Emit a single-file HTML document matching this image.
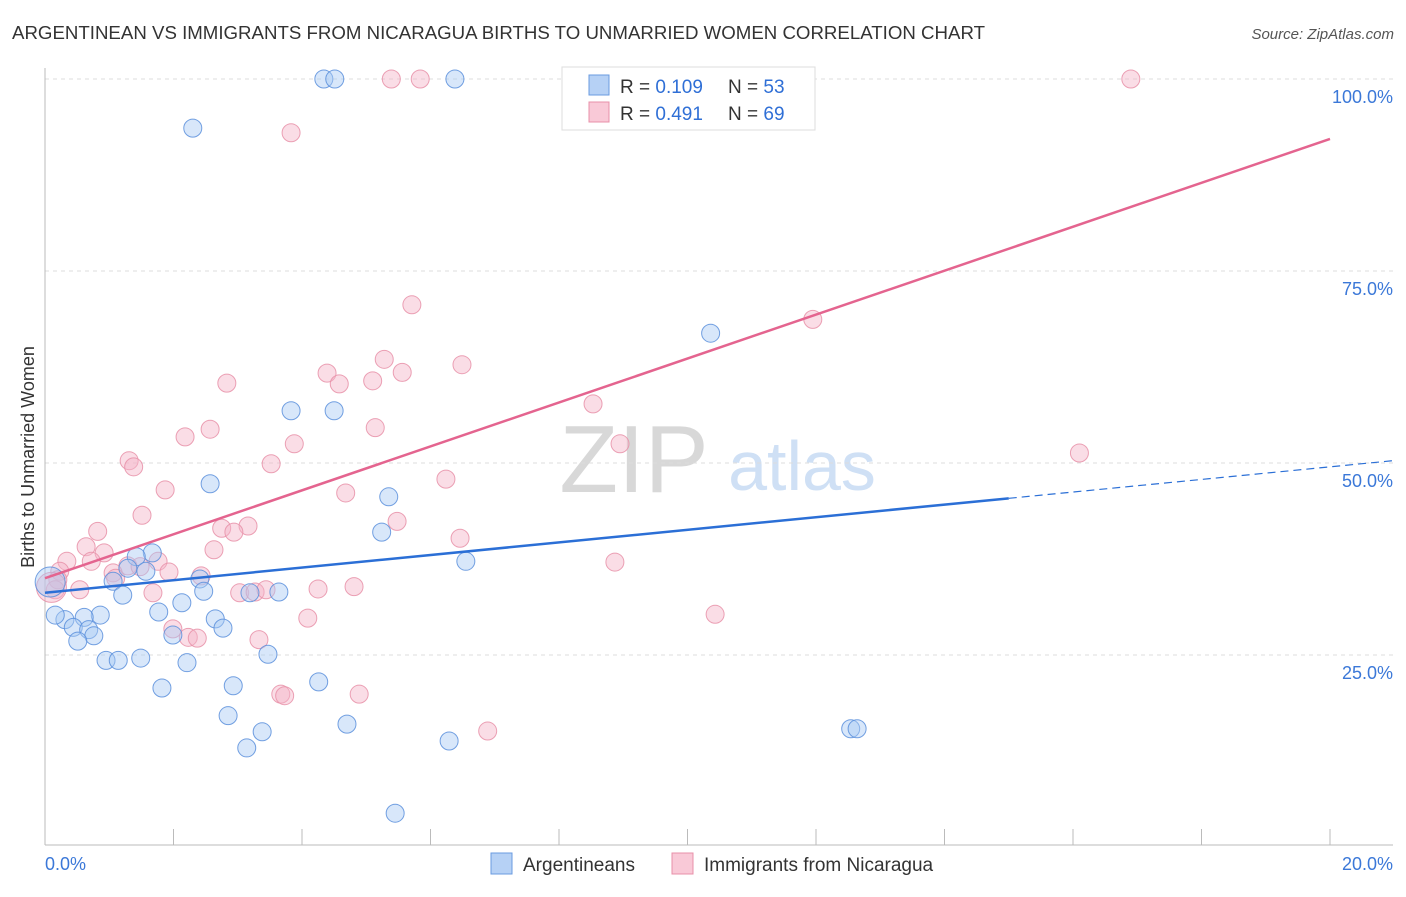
<!DOCTYPE html>
<html><head><meta charset="utf-8"><style>
body{margin:0;background:#fff;font-family:"Liberation Sans",sans-serif;}
svg text{font-family:"Liberation Sans",sans-serif;}
</style></head><body>
<svg id="chart" width="1406" height="892" xmlns="http://www.w3.org/2000/svg">
<text x="12" y="39" font-size="18.6" fill="#333" textLength="973" lengthAdjust="spacingAndGlyphs">ARGENTINEAN VS IMMIGRANTS FROM NICARAGUA BIRTHS TO UNMARRIED WOMEN CORRELATION CHART</text>
<text x="1394" y="39" font-size="15" fill="#555" text-anchor="end" font-style="italic">Source: ZipAtlas.com</text>
<text transform="translate(34,457) rotate(-90)" font-size="18" fill="#333" text-anchor="middle">Births to Unmarried Women</text>
<g>
<text x="634" y="492" font-size="96" fill="#d8d8d8" text-anchor="middle" font-family="Liberation Serif, serif">ZIP</text>
<text x="802" y="490" font-size="70" fill="#cfe0f5" text-anchor="middle">atlas</text>
</g>
<g id="grid"></g><g id="axes"></g><g id="pts"></g><g id="lines"></g>
<g>
<rect x="562" y="67" width="253" height="63" fill="#fff" stroke="#ddd"/>
<rect x="589" y="75" width="20" height="20" fill="#b6d1f5" stroke="#6a9be0"/>
<text x="620" y="93" font-size="19" fill="#333">R = <tspan fill="#2f6fd6">0.109</tspan><tspan x="728">N = </tspan><tspan fill="#2f6fd6">53</tspan></text>
<rect x="589" y="102" width="20" height="20" fill="#f9c9d7" stroke="#e890a8"/>
<text x="620" y="120" font-size="19" fill="#333">R = <tspan fill="#2f6fd6">0.491</tspan><tspan x="728">N = </tspan><tspan fill="#2f6fd6">69</tspan></text>
</g>
<g>
<rect x="491" y="853" width="21" height="21" fill="#b6d1f5" stroke="#6a9be0"/>
<text x="523" y="871" font-size="19" fill="#333">Argentineans</text>
<rect x="672" y="853" width="21" height="21" fill="#f9c9d7" stroke="#e890a8"/>
<text x="704" y="871" font-size="19" fill="#333">Immigrants from Nicaragua</text>
</g>
</svg>
<script>
const xTickLabels=["0.0%","20.0%"];
const yTicks=[25,50,75,100];
const yTickLabels=["25.0%","50.0%","75.0%","100.0%"];
const blueX=[4.34,4.51,6.38,2.30,10.36,3.83,4.50,2.57,5.35,5.24,6.55,1.67,1.42,1.29,1.57,1.06,2.41,2.47,1.21,3.19,3.64,2.13,1.77,2.65,0.86,0.61,0.31,0.44,0.68,0.76,1.99,2.77,0.51,3.47,0.95,1.14,1.49,2.21,1.82,2.93,4.26,2.85,3.38,4.70,6.29,3.14,12.54,12.64,5.45,0.16,0.08];
const blueY=[100,100,100,93.6,66.9,56.8,56.8,47.3,45.6,41.0,37.2,38.3,37.8,36.3,35.9,34.6,34.9,33.3,32.8,33.1,33.2,31.8,30.6,29.7,30.2,29.9,29.6,28.6,28.3,27.5,27.6,28.5,26.8,25.1,24.3,24.3,24.6,24.0,20.7,21.0,21.5,17.1,15.0,16.0,13.8,12.9,15.4,15.4,4.4,30.2,34.5];
const pinkX=[5.39,5.84,9.21,9.45,16.9,3.83,5.71,11.95,5.28,5.56,6.49,4.39,4.58,5.10,2.83,8.53,5.14,2.57,2.18,3.88,8.95,16.1,1.31,1.38,3.52,6.24,1.87,4.68,1.51,5.48,3.16,2.75,2.94,0.82,6.46,0.64,0.92,2.63,0.34,0.72,1.76,8.87,1.29,0.23,1.06,1.48,1.93,2.43,1.10,0.2,0.16,0.54,1.68,3.03,3.27,3.44,4.25,4.81,4.09,10.43,1.99,2.23,2.37,3.33,3.67,3.73,4.89,6.89,0.1];
const pinkY=[100,100,100,100,100,93.0,70.6,68.7,63.5,61.8,62.8,61.7,60.3,60.7,60.4,57.7,54.6,54.4,53.4,52.5,52.5,51.3,50.3,49.5,49.9,47.9,46.5,46.1,43.2,42.4,41.8,41.5,41.0,41.1,40.2,39.1,38.3,38.7,37.2,37.2,37.2,37.1,36.6,35.9,35.7,36.5,35.8,35.3,35.0,34.8,33.5,33.5,33.1,33.1,33.2,33.5,33.6,33.9,29.8,30.3,28.4,27.3,27.2,27.0,19.9,19.7,19.9,15.1,33.8];
const blueFit=[33.1,0.82]; // intercept, slope
const pinkFit=[35.0,2.86];
const NS="http://www.w3.org/2000/svg";
const X=v=>45+v/20*1285, Y=v=>847-v*7.68;
function mk(t,a,p){const e=document.createElementNS(NS,t);for(const k in a)e.setAttribute(k,a[k]);p.appendChild(e);return e;}
const grid=document.getElementById('grid'),axes=document.getElementById('axes'),pts=document.getElementById('pts'),lines=document.getElementById('lines');
yTicks.forEach((t,i)=>{
 const l=mk('line',{x1:45,x2:1393,y1:Y(t),y2:Y(t),stroke:'#ddd','stroke-dasharray':'4,4'},grid);
 
 
 const tx=mk('text',{x:1393,y:Y(t)+24,'font-size':18,fill:'#3b78d8','text-anchor':'end'},axes);
 tx.textContent=yTickLabels[i];
 
 
});
const ax=mk('line',{x1:45,x2:1393,y1:845,y2:845,stroke:'#bbb'},axes);


const ay=mk('line',{x1:45,x2:45,y1:68,y2:845,stroke:'#bbb'},axes);


for(let i=0;i<=10;i++){
 const tk=mk('line',{x1:X(i*2),x2:X(i*2),y1:829,y2:845,stroke:'#bbb'},axes);
 
 
}
const xl0=mk('text',{x:45,y:870,'font-size':18,fill:'#3b78d8'},axes);xl0.textContent=xTickLabels[0];


const xl1=mk('text',{x:1393,y:870,'font-size':18,fill:'#3b78d8','text-anchor':'end'},axes);xl1.textContent=xTickLabels[1];


function dots(xs,ys,fill,stroke,name){xs.forEach((x,i)=>{
 const r=(x<0.12)?15:9;
 const c=mk('circle',{cx:X(x),cy:Y(ys[i]),r:r,fill:fill,'fill-opacity':0.45,stroke:stroke,'stroke-opacity':0.85,'stroke-width':1},pts);
 
 
});}
dots(pinkX,pinkY,'#f5b3c8','#e890a8','point-nicaragua');
dots(blueX,blueY,'#a9c9f3','#5b8fdc','point-argentinean');
const b1=mk('line',{x1:X(0),y1:Y(blueFit[0]),x2:X(15),y2:Y(blueFit[0]+blueFit[1]*15),stroke:'#2b6fd6','stroke-width':2.5},lines);


const b2=mk('line',{x1:X(15),y1:Y(blueFit[0]+blueFit[1]*15),x2:X(20.98),y2:Y(blueFit[0]+blueFit[1]*20.98),stroke:'#2b6fd6','stroke-width':1.2,'stroke-dasharray':'8,5'},lines);


const p1=mk('line',{x1:X(0),y1:Y(pinkFit[0]),x2:X(20),y2:Y(pinkFit[0]+pinkFit[1]*20),stroke:'#e4648f','stroke-width':2.5},lines);


</script>
</body></html>
